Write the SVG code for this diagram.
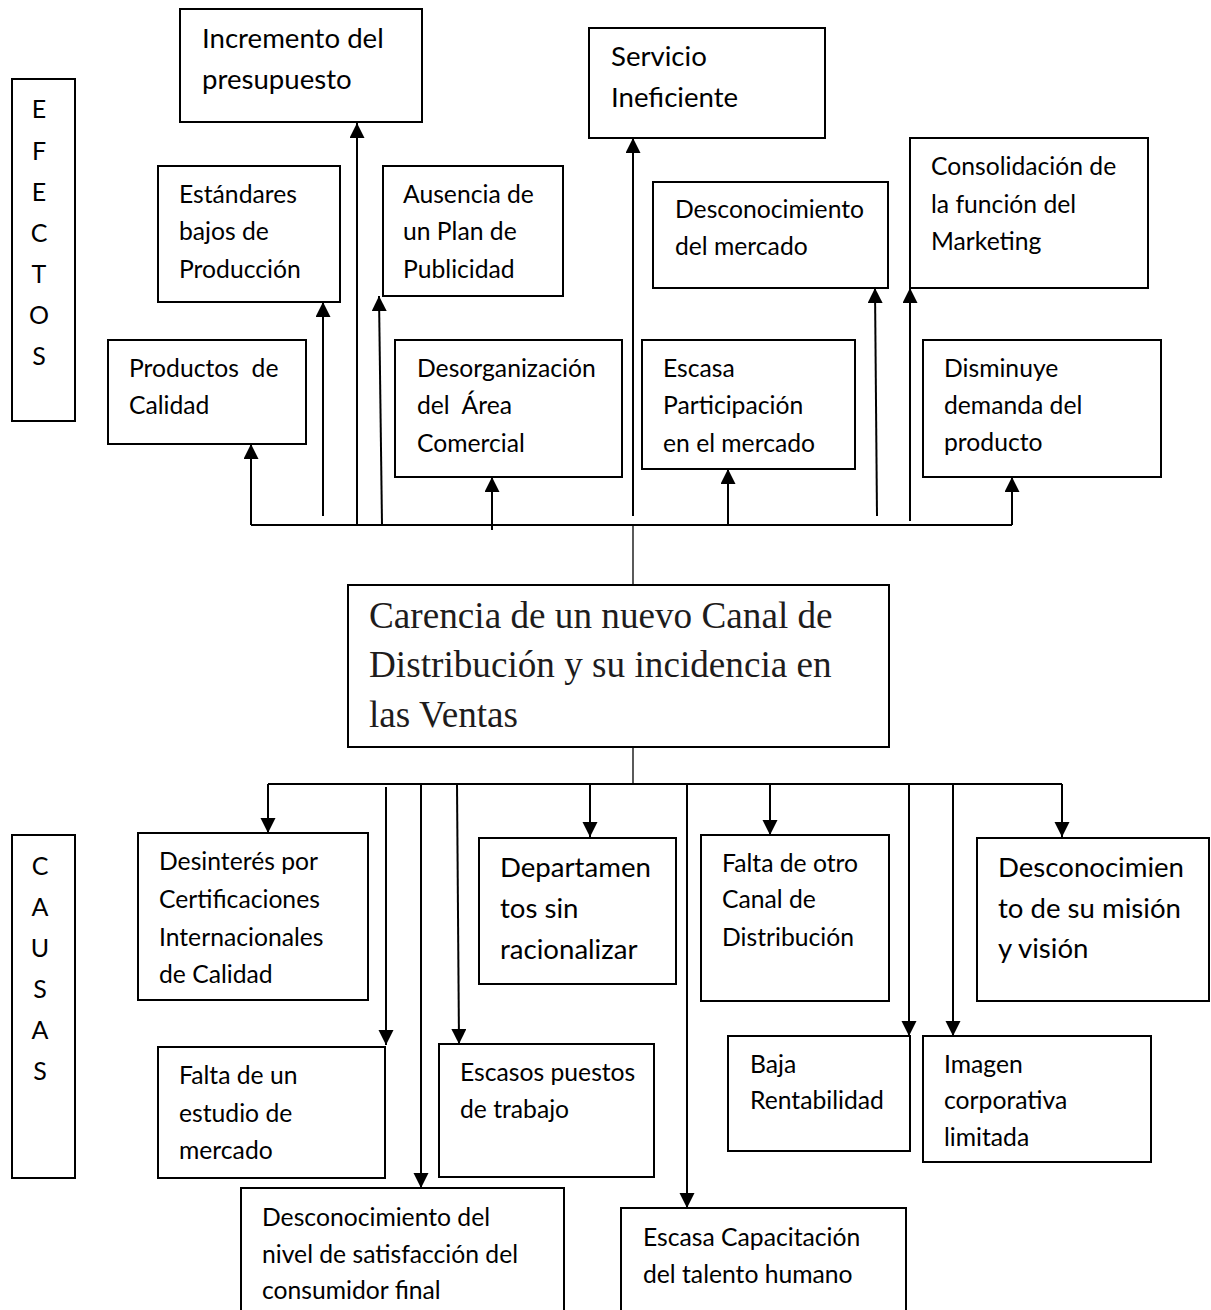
<svg xmlns="http://www.w3.org/2000/svg" width="1211" height="1310" viewBox="0 0 1211 1310">
<style>
.box{fill:#fff;stroke:#000;stroke-width:2}
.t{font-family:Lato,"Liberation Sans",sans-serif;font-size:24.7px;fill:#000;white-space:pre}
.L{font-size:27.6px}
.lab{font-family:Lato,"Liberation Sans",sans-serif;font-size:25px;fill:#000;text-anchor:middle}
.main{font-family:"Liberation Serif","Times New Roman",serif;font-size:37.2px;fill:#1e1c1c}
.c{fill:none;stroke:#000;stroke-width:2}
.thin{fill:none;stroke:#000;stroke-width:1.3}
.a{marker-end:url(#ah)}
</style>
<defs>
<marker id="ah" markerUnits="userSpaceOnUse" markerWidth="16" markerHeight="16" refX="15" refY="7.5" orient="auto">
<path d="M0,0 L15,7.5 L0,15 z" fill="#000"/>
</marker>
</defs>
<rect width="1211" height="1310" fill="#fff"/>

<g id="connectors">
<path class="c" d="M251,525 H1012"/>
<path class="c a" d="M251,525 V444"/>
<path class="c a" d="M323,516 V302"/>
<path class="c a" d="M357,525 V123"/>
<path class="c a" d="M382,525 L379,296"/>
<path class="c a" d="M492,530 V477"/>
<path class="c a" d="M633,516 V138"/>
<path class="c a" d="M728,525 V469"/>
<path class="c a" d="M877,516 L875,288"/>
<path class="c a" d="M910,521 V288"/>
<path class="c a" d="M1012,525 V477"/>
<path class="thin" d="M633,525 V585"/>
<path class="thin" d="M633,747 V784"/>
<path class="c" d="M268,784 H1062"/>
<path class="c a" d="M268,784 V833"/>
<path class="c a" d="M386,787 V1045"/>
<path class="c a" d="M421,784 V1188"/>
<path class="c a" d="M457,784 L459,1044"/>
<path class="c a" d="M590,784 V837"/>
<path class="c a" d="M687,784 V1208"/>
<path class="c a" d="M770,784 V835"/>
<path class="c a" d="M909,784 V1036"/>
<path class="c a" d="M953,784 V1036"/>
<path class="c a" d="M1062,784 V837"/>
</g>

<g id="efectos">
<rect class="box" x="12" y="79" width="63" height="342"/>
<text class="lab" x="39" y="118">E</text>
<text class="lab" x="39" y="160">F</text>
<text class="lab" x="39" y="201">E</text>
<text class="lab" x="39" y="242">C</text>
<text class="lab" x="39" y="283">T</text>
<text class="lab" x="39" y="324">O</text>
<text class="lab" x="39" y="365">S</text>
</g>

<g id="causas">
<rect class="box" x="12" y="835" width="63" height="343"/>
<text class="lab" x="40" y="875">C</text>
<text class="lab" x="40" y="916">A</text>
<text class="lab" x="40" y="957">U</text>
<text class="lab" x="40" y="998">S</text>
<text class="lab" x="40" y="1039">A</text>
<text class="lab" x="40" y="1080">S</text>
</g>

<g id="incremento">
<rect class="box" x="180" y="9" width="242" height="113"/>
<text class="t L" x="202" y="48">Incremento del</text>
<text class="t L" x="202" y="89">presupuesto</text>
</g>

<g id="estandares">
<rect class="box" x="158" y="166" width="182" height="136"/>
<text class="t" x="179" y="203">Estándares</text>
<text class="t" x="179" y="240">bajos de</text>
<text class="t" x="179" y="278">Producción</text>
</g>

<g id="ausencia">
<rect class="box" x="383" y="166" width="180" height="130"/>
<text class="t" x="403" y="203">Ausencia de</text>
<text class="t" x="403" y="240">un Plan de</text>
<text class="t" x="403" y="278">Publicidad</text>
</g>

<g id="servicio">
<rect class="box" x="589" y="28" width="236" height="110"/>
<text class="t L" x="611" y="66">Servicio</text>
<text class="t L" x="611" y="107">Ineficiente</text>
</g>

<g id="desconocimiento-mercado">
<rect class="box" x="653" y="182" width="235" height="106"/>
<text class="t" x="675" y="218">Desconocimiento</text>
<text class="t" x="675" y="255">del mercado</text>
</g>

<g id="consolidacion">
<rect class="box" x="910" y="138" width="238" height="150"/>
<text class="t" x="931" y="175">Consolidación de</text>
<text class="t" x="931" y="213">la función del</text>
<text class="t" x="931" y="250">Marketing</text>
</g>

<g id="productos">
<rect class="box" x="108" y="340" width="198" height="104"/>
<text class="t" x="129" y="377">Productos  de</text>
<text class="t" x="129" y="414">Calidad</text>
</g>

<g id="desorganizacion">
<rect class="box" x="395" y="340" width="227" height="137"/>
<text class="t" x="417" y="377">Desorganización</text>
<text class="t" x="417" y="414">del  Área</text>
<text class="t" x="417" y="452">Comercial</text>
</g>

<g id="escasa-participacion">
<rect class="box" x="642" y="340" width="213" height="129"/>
<text class="t" x="663" y="377">Escasa</text>
<text class="t" x="663" y="414">Participación</text>
<text class="t" x="663" y="452">en el mercado</text>
</g>

<g id="disminuye">
<rect class="box" x="923" y="340" width="238" height="137"/>
<text class="t" x="944" y="377">Disminuye</text>
<text class="t" x="944" y="414">demanda del</text>
<text class="t" x="944" y="451">producto</text>
</g>

<g id="problema">
<rect class="box" x="348" y="585" width="541" height="162"/>
<text class="main" x="369" y="628">Carencia de un nuevo Canal de</text>
<text class="main" x="369" y="677">Distribución y su incidencia en</text>
<text class="main" x="369" y="727">las Ventas</text>
</g>

<g id="desinteres">
<rect class="box" x="138" y="833" width="230" height="167"/>
<text class="t" x="159" y="870">Desinterés por</text>
<text class="t" x="159" y="908">Certificaciones</text>
<text class="t" x="159" y="946">Internacionales</text>
<text class="t" x="159" y="983">de Calidad</text>
</g>

<g id="falta-estudio">
<rect class="box" x="158" y="1047" width="227" height="131"/>
<text class="t" x="179" y="1084">Falta de un</text>
<text class="t" x="179" y="1122">estudio de</text>
<text class="t" x="179" y="1159">mercado</text>
</g>

<g id="desconocimiento-nivel">
<rect class="box" x="241" y="1188" width="323" height="130"/>
<text class="t" x="262" y="1226">Desconocimiento del</text>
<text class="t" x="262" y="1263">nivel de satisfacción del</text>
<text class="t" x="262" y="1299">consumidor final</text>
</g>

<g id="departamentos">
<rect class="box" x="479" y="838" width="197" height="146"/>
<text class="t L" x="500" y="877">Departamen</text>
<text class="t L" x="500" y="918">tos sin</text>
<text class="t L" x="500" y="959">racionalizar</text>
</g>

<g id="escasos-puestos">
<rect class="box" x="439" y="1044" width="215" height="133"/>
<text class="t" x="460" y="1081">Escasos puestos</text>
<text class="t" x="460" y="1118">de trabajo</text>
</g>

<g id="escasa-capacitacion">
<rect class="box" x="621" y="1208" width="285" height="110"/>
<text class="t" x="643" y="1246">Escasa Capacitación</text>
<text class="t" x="643" y="1283">del talento humano</text>
</g>

<g id="falta-canal">
<rect class="box" x="701" y="835" width="188" height="166"/>
<text class="t" x="722" y="872">Falta de otro</text>
<text class="t" x="722" y="908">Canal de</text>
<text class="t" x="722" y="946">Distribución</text>
</g>

<g id="baja-rentabilidad">
<rect class="box" x="728" y="1036" width="182" height="115"/>
<text class="t" x="750" y="1073">Baja</text>
<text class="t" x="750" y="1109">Rentabilidad</text>
</g>

<g id="imagen">
<rect class="box" x="923" y="1036" width="228" height="126"/>
<text class="t" x="944" y="1073">Imagen</text>
<text class="t" x="944" y="1109">corporativa</text>
<text class="t" x="944" y="1146">limitada</text>
</g>

<g id="desconocimiento-mision">
<rect class="box" x="977" y="838" width="232" height="163"/>
<text class="t L" x="998" y="877">Desconocimien</text>
<text class="t L" x="998" y="918">to de su misión</text>
<text class="t L" x="998" y="958">y visión</text>
</g>
</svg>
